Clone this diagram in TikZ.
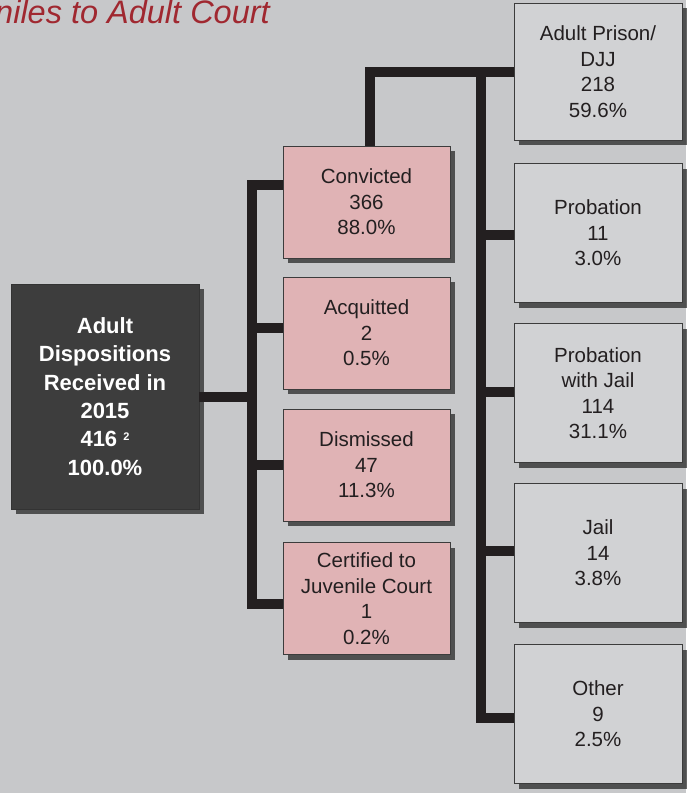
\documentclass[tikz,border=0pt]{standalone}
\usepackage{fontspec}
\setmainfont{Liberation Sans}
\usetikzlibrary{shadows,calc}
\definecolor{bg}{RGB}{199,200,202}
\definecolor{ink}{RGB}{35,31,32}
\definecolor{edge}{RGB}{60,60,60}
\definecolor{pinkfill}{RGB}{224,179,181}
\definecolor{grayfill}{RGB}{209,210,212}
\definecolor{darkfill}{RGB}{61,61,61}
\definecolor{titlered}{RGB}{160,40,48}
\begin{document}
\begin{tikzpicture}[x=1pt,y=-1pt,
  box/.style={draw=edge,line width=0.9pt,inner sep=0pt,align=center,
    font=\fontsize{20.5}{25.5}\selectfont,text=ink,
    drop shadow={shadow xshift=5pt,shadow yshift=-5pt,opacity=.6,fill=black}},
  pinkbox/.style={box,fill=pinkfill,minimum width=167pt,minimum height=112pt},
  graybox/.style={box,fill=grayfill,minimum width=168pt,minimum height=139pt},
  darkbox/.style={box,fill=darkfill,draw=black!80,text=white,
    font=\bfseries\fontsize{22}{28.3}\selectfont,minimum width=188pt,minimum height=225pt},
  link/.style={draw=ink,line width=10pt,line join=miter}]
\fill[bg] (0,0) rectangle (686,793);
\useasboundingbox (0,0) rectangle (686,793);

\node[anchor=base east,text=titlered,inner sep=0pt,font=\itshape\fontsize{32.5}{32.5}\selectfont] (title) at (270,23) {niles to Adult Court};

\node[darkbox] (main) at (105,396.5) {Adult\\Dispositions\\Received in\\2015\\416 \raisebox{0.55ex}{\fontsize{11}{11}\selectfont 2}\\100.0\%};

\node[pinkbox] (conv) at (366.5,202) {Convicted\\366\\88.0\%};
\node[pinkbox] (acq) at (366.5,333) {Acquitted\\2\\0.5\%};
\node[pinkbox] (dis) at (366.5,465) {Dismissed\\47\\11.3\%};
\node[pinkbox] (cert) at (366.5,598.5) {Certified to\\Juvenile Court\\1\\0.2\%};

\node[graybox,minimum height=137pt] (prison) at (598,71.5) {Adult Prison/\\DJJ\\218\\59.6\%};
\node[graybox] (prob) at (598,233) {Probation\\11\\3.0\%};
\node[graybox] (pwj) at (598,393) {Probation\\with Jail\\114\\31.1\%};
\node[graybox] (jail) at (598,553) {Jail\\14\\3.8\%};
\node[graybox] (other) at (598,714) {Other\\9\\2.5\%};

% left bus
\coordinate (lbT) at (252,185);
\coordinate (lbB) at (252,604);
\draw[link] (conv.west |- lbT) -- (lbT) -- (lbB) -- (cert.west |- lbB);
\draw[link] (main.east) -- (main.east -| lbT);
\draw[link] (lbT |- 0,328) -- (acq.west |- 0,328);
\draw[link] (lbT |- 0,465) -- (dis.west |- 0,465);

% right bus
\coordinate (upT) at (370,72);
\coordinate (rbT) at (481,72);
\coordinate (rbB) at (481,718);
\draw[link] (conv.north -| upT) -- (upT) -- (prison.west |- upT);
\draw[link] (rbT) -- (rbB) -- (other.west |- rbB);
\draw[link] (rbT |- 0,235) -- (prob.west |- 0,235);
\draw[link] (rbT |- 0,392) -- (pwj.west |- 0,392);
\draw[link] (rbT |- 0,551) -- (jail.west |- 0,551);
\end{tikzpicture}
\end{document}
